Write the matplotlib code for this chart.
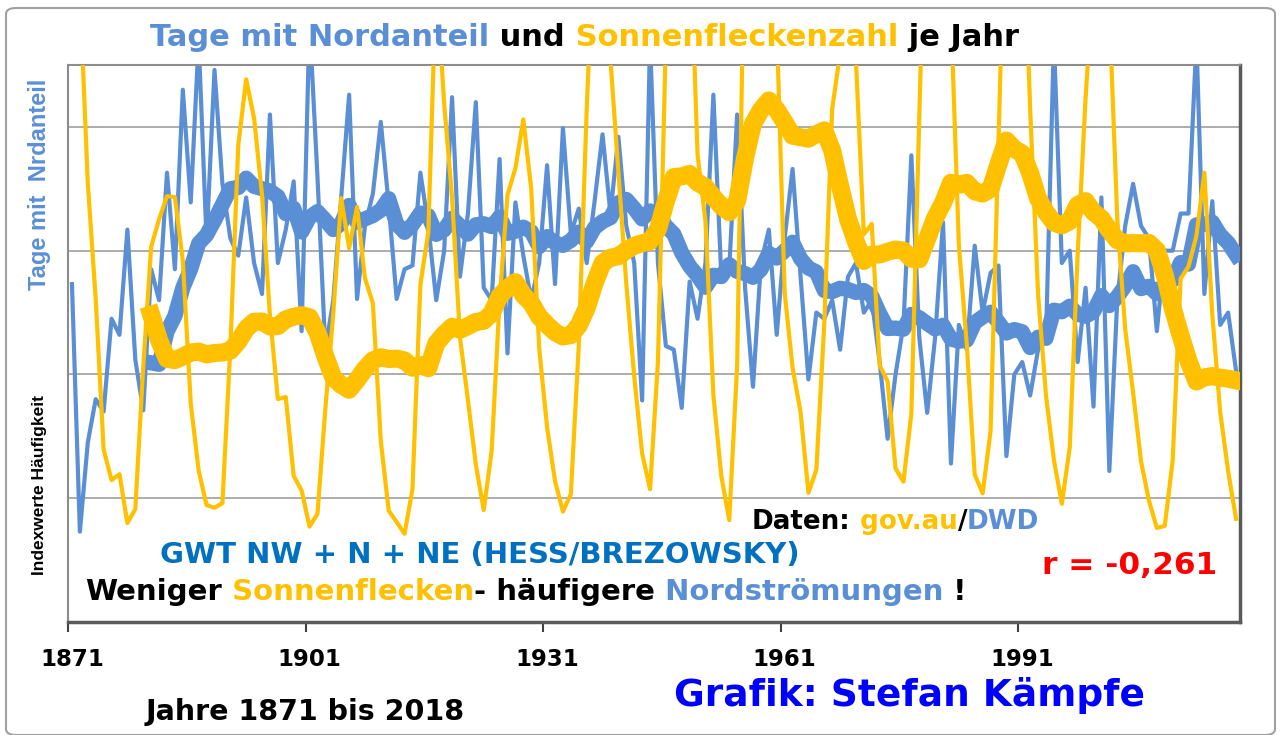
import numpy as np
import pandas as pd
import matplotlib
matplotlib.use('Agg')
import matplotlib.pyplot as plt
from matplotlib.patches import FancyBboxPatch

W, H = 1281, 735

years = np.arange(1871, 2019)

# Tage mit Nordanteil (GWT NW + N + NE), Indexwerte
nordanteil = [
    2.73, 0.73, 1.45, 1.80, 1.70, 2.45, 2.32, 3.17, 2.12, 1.71,
    2.85, 2.60, 3.63, 2.85, 4.30, 3.39, 4.70, 3.08, 4.46, 3.54,
    3.10, 2.96, 3.43, 2.90, 2.65, 4.10, 2.90, 3.17, 3.56, 2.35,
    4.85, 3.60, 2.20, 2.60, 3.43, 4.26, 2.61, 3.20, 3.46, 4.04,
    3.37, 2.61, 2.85, 2.88, 3.63, 3.20, 2.60, 3.00, 4.24, 2.79,
    3.30, 4.20, 2.70, 2.60, 3.74, 2.17, 3.39, 2.96, 2.60, 2.90,
    3.69, 2.73, 3.99, 3.14, 3.34, 2.90, 3.40, 3.94, 3.30, 3.92,
    3.20, 2.90, 1.79, 4.70, 2.90, 2.23, 2.20, 1.73, 2.75, 2.45,
    2.90, 4.26, 2.79, 2.85, 4.10, 2.70, 1.90, 2.90, 3.17, 2.32,
    3.10, 3.66, 2.80, 1.96, 2.50, 2.45, 2.60, 2.20, 2.79, 2.90,
    2.50, 2.60, 2.10, 1.48, 2.00, 2.40, 3.77, 2.30, 1.69, 2.30,
    3.23, 1.28, 2.40, 2.20, 3.04, 2.50, 2.82, 2.88, 1.34, 2.00,
    2.10, 1.83, 2.20, 2.30, 4.70, 2.90, 3.00, 2.10, 2.70, 1.74,
    3.43, 1.22, 2.60, 3.20, 3.54, 3.20, 3.10, 2.35, 3.00, 3.00,
    3.30, 3.30, 4.70, 2.65, 3.40, 2.40, 2.50, 2.03,
]

# Sonnenfleckenzahl je Jahr (secondary, hidden axis)
sonnenflecken = [
    185.3, 169.2, 110.1, 74.5, 28.3, 18.9, 20.7, 5.7, 10.0, 53.7,
    90.5, 99.0, 106.1, 105.8, 86.3, 42.4, 21.8, 11.2, 10.4, 11.8,
    59.5, 121.7, 142.0, 130.0, 106.6, 69.4, 43.8, 44.4, 20.2, 15.7,
    4.6, 8.5, 40.8, 70.1, 105.5, 90.1, 102.8, 80.9, 73.2, 30.9,
    9.5, 6.0, 2.4, 16.1, 79.0, 95.0, 173.6, 134.6, 105.7, 62.7,
    43.5, 23.7, 9.7, 27.9, 74.0, 106.5, 114.7, 129.7, 108.2, 59.4,
    35.1, 18.6, 9.2, 14.6, 60.2, 132.8, 190.6, 182.6, 148.0, 113.0,
    79.2, 50.8, 27.1, 16.1, 55.3, 154.3, 214.7, 193.0, 190.7, 118.9,
    98.3, 45.0, 20.1, 6.6, 54.2, 200.7, 269.3, 261.7, 225.1, 159.0,
    76.4, 53.4, 39.9, 15.0, 22.0, 66.8, 132.9, 150.0, 149.4, 148.0,
    94.4, 97.6, 54.1, 49.2, 22.5, 18.4, 39.3, 131.0, 220.1, 218.9,
    198.9, 162.4, 91.0, 60.5, 20.6, 14.8, 33.9, 123.0, 211.1, 191.8,
    203.3, 133.0, 76.1, 44.9, 25.1, 11.6, 28.9, 88.3, 136.3, 173.9,
    170.4, 163.6, 99.3, 65.3, 45.8, 24.7, 12.6, 4.2, 4.8, 24.9,
    80.8, 84.5, 94.0, 113.3, 69.8, 39.8, 21.7, 7.0,
]

tick_years = [1871, 1901, 1931, 1961, 1991]

BLUE = '#5A8FD6'
GOLD = '#FFC000'
DARKBLUE = '#0070C0'

# 11-year moving average, like the Excel trendline
nord_ma = pd.Series(nordanteil).rolling(11).mean()
sonne_ma = pd.Series(sonnenflecken).rolling(11).mean()

fig = plt.figure(figsize=(W / 100, H / 100), dpi=100)
fig.patch.set_facecolor('white')
fig.patches.append(FancyBboxPatch((6 / W, 0.0), 1 - 12 / W, 1 - 8 / H,
                                  boxstyle='round,pad=0,rounding_size=0.008',
                                  transform=fig.transFigure, facecolor='none',
                                  edgecolor='#A0A0A0', lw=1.5, zorder=-1))

ax = fig.add_axes([68 / W, 1 - 622 / H, (1240 - 68) / W, (622 - 65) / H])
ax.set_facecolor('none')

ax.plot(years, nordanteil, color=BLUE, lw=3, zorder=2)
ax.plot(years, nord_ma, color=BLUE, lw=11, zorder=3)

ax.set_xlim(1870.5, 2018.5)
ax.set_ylim(0, 4.5)
ax.set_yticks([1, 2, 3, 4])
ax.set_yticklabels([])
ax.tick_params(axis='y', length=0)
ax.grid(axis='y', color='#A6A6A6', lw=1.3)
ax.set_axisbelow(True)

ax.set_xticks(tick_years)
ax.set_xticklabels([str(y) for y in tick_years], fontsize=16.5, fontweight='bold',
                   family='DejaVu Sans')
ax.set_xticks([y - 0.5 for y in tick_years], minor=True)
ax.tick_params(axis='x', which='major', length=0, pad=19)
ax.tick_params(axis='x', which='minor', length=7, width=1.5, color='#404040', direction='out')

for side in ['left', 'top']:
    ax.spines[side].set_color('#8C8C8C')
    ax.spines[side].set_linewidth(1.5)
for side in ['right', 'bottom']:
    ax.spines[side].set_color('#5A5A5A')
    ax.spines[side].set_linewidth(2.5)

ax2 = ax.twinx()
ax2.plot(years, sonnenflecken, color=GOLD, lw=3, zorder=2)
ax2.plot(years, sonne_ma, color=GOLD, lw=13, zorder=3)
ax2.set_ylim(-24.7, 146.4)
ax2.set_yticks([])
for side in ax2.spines:
    ax2.spines[side].set_visible(False)


def chain(x, y, parts, size, weight='bold'):
    # pieces of one line in different colours, each placed after the previous one
    t = fig.text(x / W, 1 - y / H, parts[0][0], color=parts[0][1], fontsize=size,
                 fontweight=weight, family='DejaVu Sans', ha='left', va='center', zorder=10)
    for s, c in parts[1:]:
        a = plt.Annotation(s, xy=(1, 0.5), xycoords=t, color=c, fontsize=size,
                           fontweight=weight, family='DejaVu Sans', ha='left',
                           va='center', annotation_clip=False, zorder=10)
        fig.add_artist(a)
        t = a
    return t


# title
chain(150, 37, [('Tage mit Nordanteil', BLUE), (' und', 'black'),
                (' Sonnenfleckenzahl', GOLD), (' je Jahr', 'black')], 22)

# y axis label
fig.text(40 / W, 1 - 575 / H, 'Indexwerte Häufigkeit', color='black', fontsize=12.5,
         fontweight='bold', family='Liberation Sans', rotation=90, ha='center', va='bottom')
fig.text(40 / W, 1 - 290 / H, 'Tage mit  Nrdanteil', color=BLUE, fontsize=17,
         fontweight='bold', family='Liberation Sans', rotation=90, ha='center', va='bottom')

# notes inside the plot
chain(752, 522, [('Daten:', 'black'), (' gov.au', GOLD), ('/', 'black'), ('DWD', BLUE)], 18.8)
fig.text(160 / W, 1 - 555 / H, 'GWT NW + N + NE (HESS/BREZOWSKY)', color=DARKBLUE,
         fontsize=21, fontweight='bold', family='DejaVu Sans', ha='left', va='center', zorder=10)
chain(85, 592, [('Weniger', 'black'), (' Sonnenflecken', GOLD), ('- häufigere', 'black'),
                (' Nordströmungen', BLUE), (' !', 'black')], 21)
fig.text(1042 / W, 1 - 565 / H, 'r = -0,261', color='red', fontsize=22.5, fontweight='bold',
         family='DejaVu Sans', ha='left', va='center', zorder=10)

# bottom texts
fig.text(305 / W, 1 - 712 / H, 'Jahre 1871 bis 2018', color='black', fontsize=20.5,
         fontweight='bold', family='DejaVu Sans', ha='center', va='center')
fig.text(910 / W, 1 - 695 / H, 'Grafik: Stefan Kämpfe', color='#0000FF', fontsize=27,
         fontweight='bold', family='DejaVu Sans', ha='center', va='center')

fig.savefig('out.png', dpi=100)
